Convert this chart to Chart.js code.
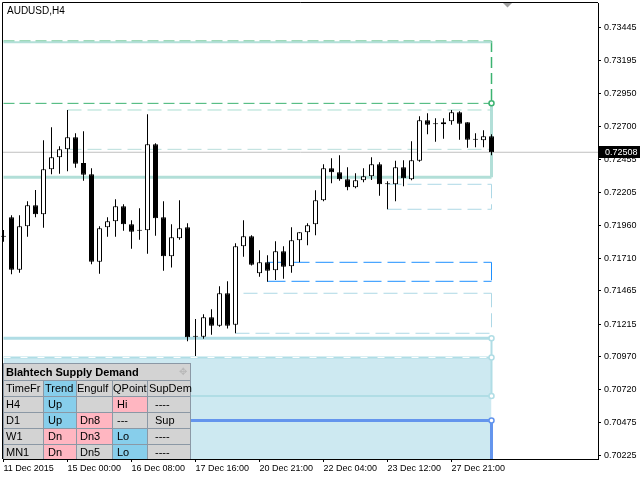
<!DOCTYPE html>
<html>
<head>
<meta charset="utf-8">
<script src="https://cdn.jsdelivr.net/npm/chart.js@4.4.0/dist/chart.umd.min.js"></script>
<style>
    body { margin: 0; background: #fff; }
    #quadro { position: relative; width: 640px; height: 480px; }
    #painel { position: absolute; left: 3px; top: 363px; width: 188px; height: 96px; background: #8b98a5;
              font-family: 'Liberation Sans', Arial, sans-serif; font-size: 11px; color: #000; }
    #painel div { position: absolute; line-height: 15px; white-space: nowrap; }
</style>
</head>
<body>
<div id="quadro">
    <canvas id="graficoH4" width="640" height="480"></canvas>
    <div id="painel"></div>
</div>
<script>
// velas H4 (abertura, máxima, mínima, fechamento)
const abertura = [0.71873, 0.72019, 0.71624, 0.71951, 0.72109, 0.72041, 0.72380, 0.72470, 0.72530, 0.72621,
    0.72427, 0.72342, 0.71685, 0.71943, 0.71989, 0.72101, 0.71966, 0.71918, 0.71921, 0.72568,
    0.72019, 0.71725, 0.71861, 0.71943, 0.71120, 0.71120, 0.71266, 0.71203, 0.71447, 0.71211,
    0.71801, 0.71876, 0.71597, 0.71680, 0.71620, 0.71763, 0.71650, 0.71846, 0.71906, 0.71966,
    0.72147, 0.72387, 0.72357, 0.72305, 0.72244, 0.72297, 0.72327, 0.72417, 0.72267, 0.72267,
    0.72395, 0.72305, 0.72444, 0.72748, 0.72718, 0.72718, 0.72741, 0.72809, 0.72733, 0.72602,
    0.72598, 0.72628];
const maxima = [0.71923, 0.72034, 0.72034, 0.72139, 0.72224, 0.72598, 0.72696, 0.72553, 0.72826, 0.72651,
    0.72666, 0.72387, 0.71951, 0.72019, 0.72154, 0.72117, 0.71996, 0.72086, 0.72794, 0.72575,
    0.72139, 0.71966, 0.72147, 0.71974, 0.71254, 0.71289, 0.71327, 0.71500, 0.71537, 0.71823,
    0.71996, 0.71883, 0.71770, 0.71733, 0.71838, 0.71801, 0.71943, 0.71906, 0.71974, 0.72222,
    0.72417, 0.72463, 0.72485, 0.72395, 0.72350, 0.72387, 0.72470, 0.72432, 0.72290, 0.72444,
    0.72447, 0.72590, 0.72779, 0.72801, 0.72763, 0.72763, 0.72826, 0.72816, 0.72733, 0.72651,
    0.72673, 0.72643];
const minima = [0.71835, 0.71590, 0.71602, 0.71873, 0.72019, 0.71940, 0.72342, 0.72347, 0.72365, 0.72392,
    0.72294, 0.71665, 0.71594, 0.71873, 0.71873, 0.71918, 0.71782, 0.71850, 0.71745, 0.71880,
    0.71617, 0.71640, 0.71850, 0.71086, 0.70975, 0.71105, 0.71135, 0.71196, 0.71181, 0.71146,
    0.71722, 0.71655, 0.71572, 0.71534, 0.71547, 0.71557, 0.71602, 0.71680, 0.71808, 0.71883,
    0.72139, 0.72274, 0.72294, 0.72222, 0.72237, 0.72282, 0.72299, 0.72181, 0.72079, 0.72139,
    0.72252, 0.72297, 0.72437, 0.72643, 0.72587, 0.72610, 0.72715, 0.72602, 0.72542, 0.72545,
    0.72545, 0.72485];
const fechamento = [0.71873, 0.71624, 0.71951, 0.72109, 0.72041, 0.72380, 0.72470, 0.72530, 0.72621, 0.72422,
    0.72339, 0.71685, 0.71936, 0.71989, 0.72101, 0.71966, 0.71910, 0.71918, 0.72568, 0.72011,
    0.71725, 0.71868, 0.71936, 0.71116, 0.71120, 0.71266, 0.71203, 0.71447, 0.71203, 0.71801,
    0.71876, 0.71662, 0.71680, 0.71617, 0.71763, 0.71647, 0.71846, 0.71906, 0.71958, 0.72147,
    0.72387, 0.72357, 0.72305, 0.72244, 0.72297, 0.72327, 0.72417, 0.72267, 0.72267, 0.72395,
    0.72312, 0.72447, 0.72748, 0.72715, 0.72718, 0.72733, 0.72809, 0.72723, 0.72602, 0.72602,
    0.72628, 0.72508];

// eixo de tempo e de preço
const posRotulos = [0, 8, 16, 24, 32, 40, 48, 56];
const rotulosData = ['11 Dec 2015', '15 Dec 00:00', '16 Dec 08:00', '17 Dec 16:00', '20 Dec 21:00', '22 Dec 04:00', '23 Dec 12:00', '27 Dec 21:00'];
const ticksPreco = [0.73445, 0.73195, 0.72950, 0.72700, 0.72455, 0.72205, 0.71960, 0.71710, 0.71465, 0.71215, 0.70970, 0.70720, 0.70475, 0.70225];

// zonas de oferta / demanda (preços) e vela onde começam
const caixaVerde = [0.73345, 0.72876];
const caixaTeal = [0.72826, 0.72530];
const linhaTeal = [0.72320];
const caixaAzulClara = [0.72267, 0.72079];
const caixaAzul = [0.71680, 0.71537];
const caixaSuporte = [0.71447, 0.71146];
const zonaDemanda = [0.71108, 0.70964, 0.70674, 0.70490];
const inicioTeal = [8, 8];
const inicioAzulClara = [48, 48];
const inicioAzul = [33, 33];
const inicioSuporte = [30, 29];

// painel Blahtech
const painelTitulo = 'Blahtech Supply Demand';
const painelLinhas = [
    ['TimeFr', 'Trend', 'Engulf', 'QPoint', 'SupDem'],
    ['H4', 'Up', '', 'Hi', '----'],
    ['D1', 'Up', 'Dn8', '---', 'Sup'],
    ['W1', 'Dn', 'Dn3', 'Lo', '----'],
    ['MN1', 'Dn', 'Dn5', 'Lo', '----']
];
const painelCores = [
    ['c', 'a', 'c', 'c', 'c'],
    ['c', 'a', 'c', 'r', 'c'],
    ['c', 'a', 'r', 'c', 'c'],
    ['c', 'r', 'r', 'a', 'c'],
    ['c', 'r', 'c', 'a', 'c']
];

const ultima = fechamento.length - 1;
const xMin = -0.0625, xMax = 74.3125;

function linha(x0, x1, y0, y1, cor, largura, traco) {
    return {
        type: 'line', data: [{ x: x0, y: y0 }, { x: x1, y: y1 }],
        borderColor: cor, borderWidth: largura, borderDash: traco || [],
        pointRadius: 0, fill: false, order: 3
    };
}

function montarPainel() {
    const painel = document.getElementById('painel');
    const fundo = { c: '#d3d3d3', a: '#87ceeb', r: '#ffb6c1' };
    const colX = [1, 41, 74, 110, 145], colL = [39, 32, 35, 34, 42];
    const linY = [18, 34, 50, 66, 82], linH = [15, 15, 15, 15, 14];
    const recuoCab = [2, 1, 0, 0, 1], recuo = [2, 4, 3, 4, 7];

    const t = document.createElement('div');
    t.style.cssText = 'left:1px;top:1px;width:186px;height:16px;line-height:16px;background:#d3d3d3;font-weight:bold;';
    t.innerHTML = '<span style="padding-left:2px">' + painelTitulo + '</span><span style="position:absolute;right:3px;color:#b8b8b8;font-weight:normal;font-size:10px">✥</span>';
    painel.appendChild(t);

    painelLinhas.forEach((linhaP, r) => {
        linhaP.forEach((txt, c) => {
            const d = document.createElement('div');
            d.style.left = colX[c] + 'px';
            d.style.top = linY[r] + 'px';
            d.style.width = colL[c] + 'px';
            d.style.height = linH[r] + 'px';
            d.style.background = fundo[painelCores[r][c]];
            d.style.paddingLeft = (r === 0 ? recuoCab[c] : recuo[c]) + 'px';
            d.style.boxSizing = 'border-box';
            d.textContent = txt;
            painel.appendChild(d);
        });
    });
}

// moldura, título e etiqueta do preço atual
const extras = {
    id: 'extras',
    afterDraw(chart) {
        const ctx = chart.ctx;
        const area = chart.chartArea;
        ctx.save();
        ctx.strokeStyle = '#000';
        ctx.lineWidth = 1;
        ctx.beginPath();
        ctx.moveTo(area.left - 0.5, area.bottom);
        ctx.lineTo(area.left - 0.5, area.top - 0.5);
        ctx.lineTo(area.right, area.top - 0.5);
        ctx.stroke();

        ctx.fillStyle = '#a0a0a0';
        ctx.beginPath();
        ctx.moveTo(503, 3); ctx.lineTo(512, 3); ctx.lineTo(507.5, 7.5);
        ctx.fill();

        ctx.fillStyle = '#000';
        ctx.font = '10px "Liberation Sans"';
        ctx.textBaseline = 'middle';
        ctx.fillText('AUDUSD,H4', 7, 11);

        const preco = fechamento[ultima];
        const py = Math.round(chart.scales.y.getPixelForValue(preco));
        ctx.fillRect(area.right + 1, py - 6, 41, 12);
        ctx.fillStyle = '#fff';
        ctx.font = '9px "Liberation Sans"';
        ctx.fillText(preco.toFixed(5), area.right + 7, py + 0.5);
        ctx.restore();
    }
};

function criarGrafico() {
    const idx = abertura.map((_, i) => i);
    const verde = '#3cb371', tealClaro = '#aadfd2', teal = '#b2dfd8', azulClaro = '#add8e6',
        azul = '#1e90ff', powder = '#b0dde5', cornflower = '#6495ed';

    const datasets = [
        {
            type: 'bar', order: 0, grouped: false, clip: false,
            data: idx.map(i => ({ x: i, y: [abertura[i], fechamento[i]] })),
            backgroundColor: idx.map(i => fechamento[i] > abertura[i] ? '#fff' : '#000'),
            borderColor: '#000', borderWidth: 1, borderSkipped: false,
            maxBarThickness: 5, minBarLength: 1
        },
        {
            type: 'bar', order: 1, grouped: false, clip: false,
            data: idx.map(i => ({ x: i, y: [minima[i], maxima[i]] })),
            backgroundColor: '#000', borderWidth: 0, maxBarThickness: 1
        },
        // preço atual
        Object.assign(linha(xMin, xMax, fechamento[ultima], fechamento[ultima], '#c0c0c0', 1), { order: 2 }),
        // caixa verde (oferta)
        linha(0, ultima, caixaVerde[0] - 0.0001, caixaVerde[0] - 0.0001, teal, 2),
        linha(0, ultima, caixaVerde[0], caixaVerde[0], verde, 1, [11, 5]),
        linha(ultima, ultima, caixaVerde[0], caixaVerde[1], verde, 1.5, [11, 5]),
        linha(0, ultima, caixaVerde[1], caixaVerde[1], verde, 1, [11, 5]),
        linha(inicioTeal[0], ultima, caixaTeal[0], caixaTeal[0], tealClaro, 1, [14, 6]),
        linha(inicioTeal[1], ultima, caixaTeal[1], caixaTeal[1], '#b8dedb', 1, [14, 6]),
        linha(ultima, ultima, caixaVerde[1], linhaTeal[0], teal, 3),
        linha(0, ultima, linhaTeal[0], linhaTeal[0], teal, 3),
        // caixas menores
        linha(inicioAzulClara[0], ultima, caixaAzulClara[0], caixaAzulClara[0], azulClaro, 1, [14, 6]),
        linha(inicioAzulClara[1], ultima, caixaAzulClara[1], caixaAzulClara[1], azulClaro, 1, [14, 6]),
        linha(ultima, ultima, caixaAzulClara[0], caixaAzulClara[1], azulClaro, 1, [14, 6]),
        linha(inicioAzul[0], ultima, caixaAzul[0], caixaAzul[0], azul, 1, [18, 6]),
        linha(inicioAzul[1], ultima, caixaAzul[1], caixaAzul[1], azul, 1, [18, 6]),
        linha(ultima, ultima, caixaAzul[0], caixaAzul[1], azul, 1, [18, 6]),
        linha(inicioSuporte[0], ultima, caixaSuporte[0], caixaSuporte[0], azulClaro, 1, [14, 6]),
        linha(inicioSuporte[1], ultima, caixaSuporte[1], caixaSuporte[1], azulClaro, 1, [14, 6]),
        linha(ultima, ultima, caixaSuporte[0], caixaSuporte[1], azulClaro, 1, [14, 6]),
        // zona de demanda
        linha(0, ultima, zonaDemanda[0], zonaDemanda[0], powder, 3),
        Object.assign(linha(0, ultima, zonaDemanda[1], zonaDemanda[1], powder, 2),
            { fill: 'start', backgroundColor: '#cde9f1', order: 9 }),
        linha(0, ultima, zonaDemanda[1], zonaDemanda[1], '#ffffff', 1, [7, 10]),
        linha(0, ultima, zonaDemanda[2], zonaDemanda[2], powder, 2),
        linha(0, ultima, zonaDemanda[2], zonaDemanda[2], '#ffffff', 1, [7, 10]),
        linha(ultima, ultima, zonaDemanda[0], zonaDemanda[2], powder, 2),
        linha(0, ultima, zonaDemanda[3], zonaDemanda[3], cornflower, 3),
        linha(ultima, ultima, zonaDemanda[3], 0.70200, cornflower, 3),
        // marcadores no fim das zonas
        {
            type: 'line', order: 2, showLine: false,
            data: [caixaVerde[1], zonaDemanda[0], zonaDemanda[1], zonaDemanda[2], zonaDemanda[3]].map(v => ({ x: ultima, y: v })),
            pointRadius: 2.5, pointBackgroundColor: '#fff', pointBorderWidth: 1.5,
            pointBorderColor: [verde, powder, powder, powder, cornflower]
        }
    ];

    const fonte = { family: 'Liberation Sans', size: 9 };

    new Chart(document.getElementById('graficoH4'), {
        type: 'bar',
        data: { datasets: datasets },
        options: {
            responsive: false,
            animation: false,
            devicePixelRatio: 1,
            layout: { autoPadding: false, padding: { left: 3, top: 3, right: 0, bottom: 0 } },
            plugins: { legend: { display: false }, tooltip: { enabled: false } },
            scales: {
                x: {
                    type: 'linear', min: xMin, max: xMax, offset: false,
                    grid: { offset: false, drawOnChartArea: false, tickLength: 3, color: '#000' },
                    border: { color: '#000' },
                    ticks: {
                        autoSkip: false, maxRotation: 0, align: 'start', padding: 1, color: '#000', font: fonte,
                        callback: (v, i) => rotulosData[i]
                    },
                    afterBuildTicks: s => { s.ticks = posRotulos.map(v => ({ value: v })); },
                    afterFit: s => { s.height = 21; s.paddingLeft = 0; s.paddingRight = 0; }
                },
                y: {
                    type: 'linear', position: 'right', min: 0.70200, max: 0.73631,
                    grid: { drawOnChartArea: false, tickLength: 3, color: '#000' },
                    border: { color: '#000' },
                    ticks: { autoSkip: false, padding: 3, color: '#000', font: fonte, callback: v => v.toFixed(5) },
                    afterBuildTicks: s => { s.ticks = ticksPreco.map(v => ({ value: v })); },
                    afterFit: s => { s.width = 42; s.paddingTop = 0; s.paddingBottom = 0; }
                }
            }
        },
        plugins: [extras]
    });
}

montarPainel();
criarGrafico();
</script>
</body>
</html>
